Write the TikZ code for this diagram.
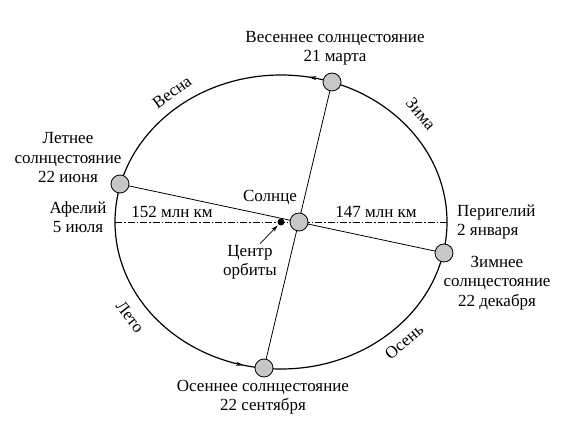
\documentclass[tikz,border=0pt]{standalone}
\usepackage{fontspec}
\setmainfont{Liberation Serif}
\usetikzlibrary{positioning,backgrounds,arrows.meta,decorations.markings}

\tikzset{
  body/.style={circle, draw, fill=black!22, minimum size=18pt, inner sep=0pt, line width=0.8pt},
  txt/.style={font=\fontsize{17}{19.5}\selectfont, align=center, inner sep=1pt},
  orbit/.style={line width=1.2pt, postaction={decorate}, decoration={markings,
      mark=at position 0.222 with {\arrow{Stealth[length=8pt,width=4pt]}},
      mark=at position 0.712 with {\arrow{Stealth[length=8pt,width=4pt]}}}},
}

\begin{document}
\begin{tikzpicture}[x=1pt, y=1pt]
  \useasboundingbox (0,0) rectangle (567,428);
  \coordinate (O) at (281,206);

  % bodies on the orbit
  \node[body] (sun) at (299,206) {};
  \node[circle, fill=black, minimum size=7pt, inner sep=0pt] (mid) at (O) {};
  \node[body] (spring) at (332,346) {};
  \node[body] (summer) at (120,244) {};
  \node[body] (autumn) at (264,60) {};
  \node[body] (winter) at (444,175) {};
  \coordinate (aph) at (115,206);
  \coordinate (per) at (447,206);

  % labels
  \node[txt] (springlbl) at (335,380) {Весеннее солнцестояние\\21 марта};
  \node[txt] (summerlbl) at (68,270) {Летнее\\солнцестояние\\22 июня};
  \node[txt] (aphlbl) at (78,211) {Афелий\\5 июля};
  \node[txt, align=left, anchor=west] (perlbl) at (456,206) {Перигелий\\2 января};
  \node[txt] (winterlbl) at (497,145) {Зимнее\\солнцестояние\\22 декабря};
  \node[txt] (autumnlbl) at (263,31) {Осеннее солнцестояние\\22 сентября};
  \node[txt] (sunlbl) at (270,230) {Солнце};
  \node[txt] (ctr) at (250,166) {Центр\\орбиты};
  \node[txt] (far) at (172,216) {152 млн км};
  \node[txt] (near) at (376,216) {147 млн км};

  % seasons along the orbit
  \node[txt, rotate=36] (vesna) at (172,336) {Весна};
  \node[txt, rotate=-50] (zima) at (421,314) {Зима};
  \node[txt, rotate=-52] (leto) at (130,111) {Лето};
  \node[txt, rotate=40] (osen) at (404,86) {Осень};

  \begin{scope}[on background layer]
    \draw[orbit] (O) ellipse[x radius=166pt, y radius=147pt];
    \draw[line width=0.8pt] (spring) -- (autumn);
    \draw[line width=0.8pt] (summer) -- (winter);
    \draw[line width=0.7pt, dash pattern=on 7pt off 2pt on 1.5pt off 2pt] (aph) -- (per);
  \end{scope}
  \draw[-{Stealth[length=7pt,width=4pt]}, line width=0.7pt, shorten >=1pt] ([xshift=10pt]ctr.north) -- (mid);
\end{tikzpicture}
\end{document}
